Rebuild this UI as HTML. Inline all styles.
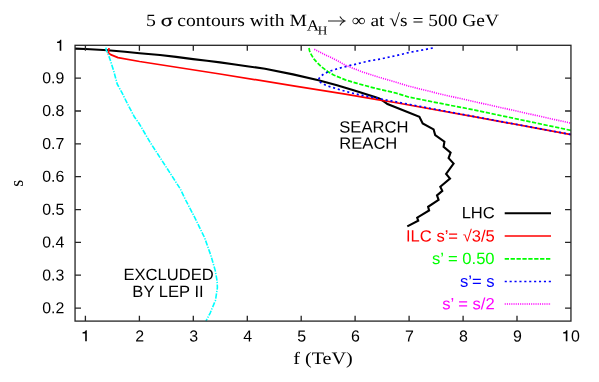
<!DOCTYPE html>
<html><head><meta charset="utf-8"><title>5 sigma contours</title>
<style>html,body{margin:0;padding:0;background:#fff;}svg{display:block;will-change:transform;}text{font-kerning:normal;}.sans{font-family:"Liberation Sans",sans-serif;}.serif{font-family:"Liberation Serif",serif;}</style>
</head><body>
<svg width="599" height="382" viewBox="0 0 599 382">
<rect width="599" height="382" fill="#fff"/>
<g fill="none" stroke-linejoin="round">
<path d="M75.0,48.6 L85.6,49.0 L107.7,50.3 L125.0,51.7 L139.6,53.2 L160.0,55.0 L176.0,56.9 L193.0,59.1 L207.0,60.8 L220.0,62.4 L235.0,64.5 L247.0,66.2 L265.0,68.7 L293.0,74.4 L318.5,80.2 L337.0,85.2 L353.6,90.3 L367.0,94.5 L375.0,97.0 L379.2,98.4 L383.4,101.2 L387.5,104.1 L401.8,109.8 L419.4,116.8 L422.7,123.5 L433.6,129.4 L435.2,135.0 L444.4,141.7 L443.6,146.8 L450.6,152.6 L448.6,158.1 L453.6,163.5 L446.1,173.9 L450.0,178.6 L440.3,186.7 L442.3,190.9 L437.0,195.4 L438.6,199.8 L428.1,206.8 L429.1,210.5 L417.2,217.7 L418.2,220.7 L407.3,226.4" stroke="#000" stroke-width="2.1" stroke-linejoin="miter"/>
<path d="M109.0,48.0 L108.3,52.8 L110.7,54.6 L118.0,57.6 L139.6,61.5 L220.0,74.0 L295.0,86.1 L345.3,94.2 L378.8,99.8 L395.0,102.5 L475.0,116.8 L571.0,134.6" stroke="#ff0000" stroke-width="1.7"/>
<path d="M309.0,48.0 L309.6,51.0 L310.6,53.4 L313.8,58.9 L317.2,62.6 L321.5,66.8 L325.2,69.6 L327.7,71.5 L333.6,75.0 L345.4,79.9 L357.2,83.4 L370.0,86.9 L378.8,89.1 L395.0,92.8 L408.5,97.0 L442.0,103.7 L475.0,110.1 L571.0,130.4" stroke="#00ff00" stroke-width="1.7" stroke-dasharray="4.3 1.6"/>
<path d="M432.8,48.0 L408.5,52.6 L395.0,55.9 L378.8,59.3 L369.6,60.8 L360.7,63.0 L351.3,65.2 L341.8,67.5 L337.1,68.9 L331.9,70.5 L327.7,72.1 L323.6,74.1 L320.4,76.6 L319.0,78.6 L318.8,80.2 L319.6,81.7 L321.8,83.3 L326.5,85.6 L331.5,87.2 L340.1,89.8 L349.5,92.4 L358.9,94.6 L368.4,96.6 L378.8,98.6 L395.0,101.6 L410.0,104.5 L440.0,110.2 L475.0,116.7 L571.0,134.5" stroke="#0000ff" stroke-width="1.7" stroke-dasharray="2.1 2.8"/>
<path d="M314.3,49.2 L323.6,54.1 L331.5,57.7 L339.4,61.8 L345.3,65.2 L362.0,71.8 L378.8,77.2 L395.0,81.9 L408.5,86.1 L442.0,94.4 L475.0,101.8 L571.0,123.2" stroke="#ff00ff" stroke-width="1.6" stroke-dasharray="1.1 1.1"/>
<path d="M105.9,47.6 L106.2,50.0 L108.5,55.0 L109.8,58.7 L113.8,71.2 L117.2,84.0 L122.2,93.2 L128.5,105.8 L134.6,117.3 L138.5,122.5 L150.3,142.6 L166.6,167.7 L180.4,189.1 L185.6,200.0 L194.8,217.6 L204.6,237.7 L210.8,255.3 L215.2,270.4 L217.1,281.0 L217.4,287.7 L215.5,300.2 L210.3,312.8 L206.0,321.0" stroke="#00ffff" stroke-width="1.6" stroke-dasharray="5.2 1.3 1.3 1.3"/>
<path d="M504.7,213.2 H551" stroke="#000" stroke-width="2.1"/>
<path d="M504.7,236.0 H551" stroke="#ff0000" stroke-width="1.7"/>
<path d="M504.7,258.8 H551" stroke="#00ff00" stroke-width="1.7" stroke-dasharray="4.3 1.6"/>
<path d="M504.7,281.5 H551" stroke="#0000ff" stroke-width="1.7" stroke-dasharray="2.1 2.8"/>
<path d="M504.7,304 H551" stroke="#ff00ff" stroke-width="1.6" stroke-dasharray="1.1 1.1"/>
</g>
<g fill="none" stroke="#242424" stroke-width="1.3">
<rect x="75.05" y="45.3" width="495.9" height="275.8"/>
<path d="M85.4,321.05 v-5.4 M85.4,45.3 v5.4 M139.4,321.05 v-5.4 M139.4,45.3 v5.4 M193.3,321.05 v-5.4 M193.3,45.3 v5.4 M247.3,321.05 v-5.4 M247.3,45.3 v5.4 M301.2,321.05 v-5.4 M301.2,45.3 v5.4 M355.1,321.05 v-5.4 M355.1,45.3 v5.4 M409.1,321.05 v-5.4 M409.1,45.3 v5.4 M463.1,321.05 v-5.4 M463.1,45.3 v5.4 M517.0,321.05 v-5.4 M517.0,45.3 v5.4 M75.05,308.1 h5.95 M571.0,308.1 h-5.95 M75.05,275.2 h5.95 M571.0,275.2 h-5.95 M75.05,242.4 h5.95 M571.0,242.4 h-5.95 M75.05,209.6 h5.95 M571.0,209.6 h-5.95 M75.05,176.7 h5.95 M571.0,176.7 h-5.95 M75.05,143.9 h5.95 M571.0,143.9 h-5.95 M75.05,111.0 h5.95 M571.0,111.0 h-5.95 M75.05,78.1 h5.95 M571.0,78.1 h-5.95"/>
</g>
<text transform="translate(139.8,341.6) scale(1.03,1.03) rotate(0.03)" class="sans" font-size="15.5" text-anchor="middle" fill="#000" >2</text>
<text transform="translate(193.7,341.6) scale(1.03,1.03) rotate(0.03)" class="sans" font-size="15.5" text-anchor="middle" fill="#000" >3</text>
<text transform="translate(247.7,341.6) scale(1.03,1.03) rotate(0.03)" class="sans" font-size="15.5" text-anchor="middle" fill="#000" >4</text>
<text transform="translate(301.6,341.6) scale(1.03,1.03) rotate(0.03)" class="sans" font-size="15.5" text-anchor="middle" fill="#000" >5</text>
<text transform="translate(355.5,341.6) scale(1.03,1.03) rotate(0.03)" class="sans" font-size="15.5" text-anchor="middle" fill="#000" >6</text>
<text transform="translate(409.5,341.6) scale(1.03,1.03) rotate(0.03)" class="sans" font-size="15.5" text-anchor="middle" fill="#000" >7</text>
<text transform="translate(463.5,341.6) scale(1.03,1.03) rotate(0.03)" class="sans" font-size="15.5" text-anchor="middle" fill="#000" >8</text>
<text transform="translate(517.4,341.6) scale(1.03,1.03) rotate(0.03)" class="sans" font-size="15.5" text-anchor="middle" fill="#000" >9</text>
<path transform="translate(86.0,341.3)" d="M-0.8,0 H0.8 V-11 H-0.25 C-0.55,-9.8 -1.7,-9.15 -3.45,-8.95 V-7.75 H-0.8 Z" fill="#000"/>
<path transform="translate(566.6,341.3)" d="M-0.8,0 H0.8 V-11 H-0.25 C-0.55,-9.8 -1.7,-9.15 -3.45,-8.95 V-7.75 H-0.8 Z" fill="#000"/>
<text transform="translate(575.4,341.6) scale(1.03,1.03) rotate(0.03)" class="sans" font-size="15.5" text-anchor="middle" fill="#000" >0</text>
<path transform="translate(60.5,50.8)" d="M-0.8,0 H0.8 V-11 H-0.25 C-0.55,-9.8 -1.7,-9.15 -3.45,-8.95 V-7.75 H-0.8 Z" fill="#000"/>
<text transform="translate(64.3,313.2) scale(1.025,1.03) rotate(0.03)" class="sans" font-size="15.5" text-anchor="end" fill="#000" >0.2</text>
<text transform="translate(64.3,280.4) scale(1.025,1.03) rotate(0.03)" class="sans" font-size="15.5" text-anchor="end" fill="#000" >0.3</text>
<text transform="translate(64.3,247.5) scale(1.025,1.03) rotate(0.03)" class="sans" font-size="15.5" text-anchor="end" fill="#000" >0.4</text>
<text transform="translate(64.3,214.7) scale(1.025,1.03) rotate(0.03)" class="sans" font-size="15.5" text-anchor="end" fill="#000" >0.5</text>
<text transform="translate(64.3,181.8) scale(1.025,1.03) rotate(0.03)" class="sans" font-size="15.5" text-anchor="end" fill="#000" >0.6</text>
<text transform="translate(64.3,149.0) scale(1.025,1.03) rotate(0.03)" class="sans" font-size="15.5" text-anchor="end" fill="#000" >0.7</text>
<text transform="translate(64.3,116.1) scale(1.025,1.03) rotate(0.03)" class="sans" font-size="15.5" text-anchor="end" fill="#000" >0.8</text>
<text transform="translate(64.3,83.2) scale(1.025,1.03) rotate(0.03)" class="sans" font-size="15.5" text-anchor="end" fill="#000" >0.9</text>
<text transform="translate(168.6,280.0) scale(1.07,1.05) rotate(0.03)" class="sans" font-size="15.5" text-anchor="middle" fill="#000" >EXCLUDED</text>
<text transform="translate(168.0,296.9) scale(1.07,1.05) rotate(0.03)" class="sans" font-size="15.5" text-anchor="middle" fill="#000" >BY LEP II</text>
<text transform="translate(339.3,132.4) scale(1.07,1.05) rotate(0.03)" class="sans" font-size="15.5" text-anchor="start" fill="#000" >SEARCH</text>
<text transform="translate(339.3,148.8) scale(1.07,1.05) rotate(0.03)" class="sans" font-size="15.5" text-anchor="start" fill="#000" >REACH</text>
<text transform="translate(494.8,218.2) scale(1.07,1.05) rotate(0.03)" class="sans" font-size="15.5" text-anchor="end" fill="#000" >LHC</text>
<text transform="translate(494.8,241.5) scale(1.07,1.05) rotate(0.03)" class="sans" font-size="15.5" text-anchor="end" fill="#ff0000" >ILC s’= √3/5</text>
<text transform="translate(494.6,264.0) scale(1.07,1.05) rotate(0.03)" class="sans" font-size="15.5" text-anchor="end" fill="#00ff00" >s’ = 0.50</text>
<text transform="translate(494.6,286.8) scale(1.07,1.05) rotate(0.03)" class="sans" font-size="15.5" text-anchor="end" fill="#0000ff" >s’= s</text>
<text transform="translate(494.6,309.2) scale(1.07,1.05) rotate(0.03)" class="sans" font-size="15.5" text-anchor="end" fill="#ff00ff" >s’ = s/2</text>
<text transform="translate(323.0,364.4) scale(1.12,0.97) rotate(0.03)" class="serif" font-size="18" text-anchor="middle" fill="#000" >f (TeV)</text>
<text transform="translate(23.2,183.3) scale(1.08,1) rotate(-90)" class="serif" font-size="18" text-anchor="middle" fill="#000">s</text>
<g class="serif" font-size="18" fill="#000">
<text transform="translate(146.0,25.9) scale(1.10,0.96) rotate(0.03)">5</text>
<text transform="translate(160.7,25.9) scale(1.25,0.98) rotate(0.03)" stroke="#000" stroke-width="0.18">σ</text>
<text transform="translate(177.3,25.9) scale(1.09,0.96) rotate(0.03)">contours with M</text>
<text transform="translate(306.8,30.5) scale(1.18,1.06) rotate(0.03)" font-size="14.5">A</text>
<text transform="translate(317.7,34.6) scale(1.17,1.08) rotate(0.03)" font-size="11.3">H</text>
<path d="M328,21.0 H344.2 M339.9,16.6 Q341.3,19.5 344.8,21.0 Q341.3,22.5 339.9,25.4" fill="none" stroke="#222" stroke-width="1.1"/>
<text transform="translate(351.8,25.9) scale(1.08,0.96) rotate(0.03)">∞ at √s = 500 GeV</text>
</g>
</svg>
</body></html>
